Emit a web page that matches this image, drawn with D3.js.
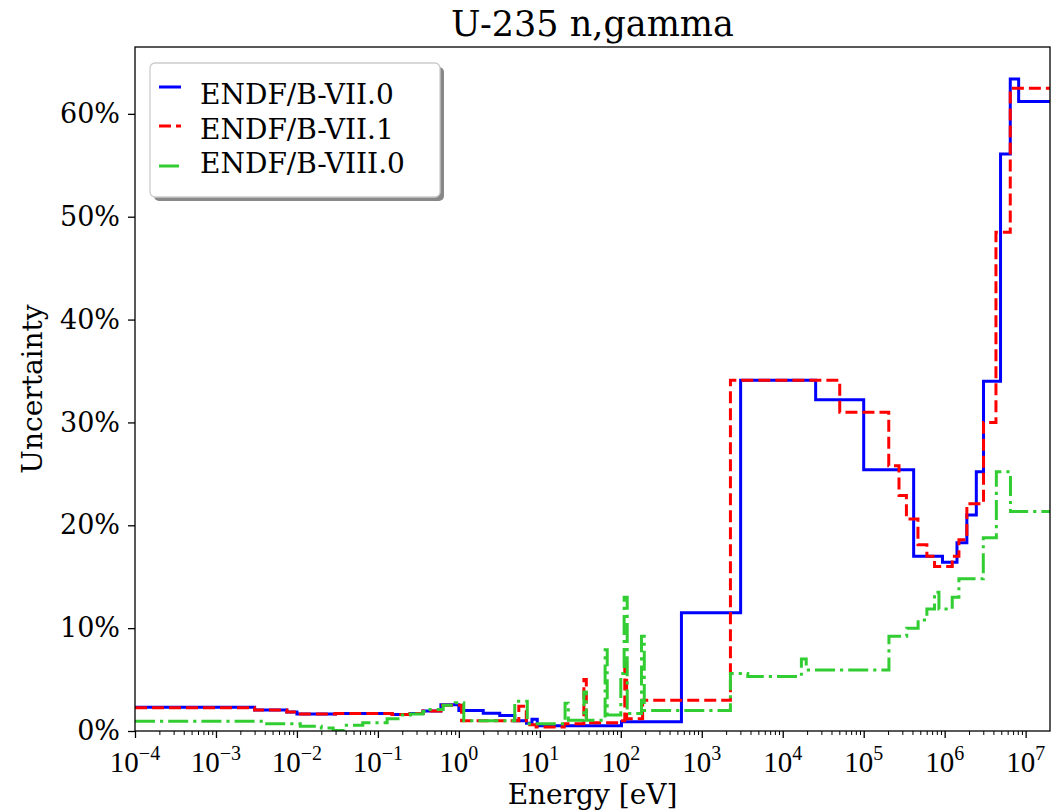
<!DOCTYPE html>
<html><head><meta charset="utf-8">
<script src="https://cdn.jsdelivr.net/npm/d3@7"></script>
<style>body{margin:0;background:#fff}</style>
</head><body>
<svg id="chart" width="1053" height="811"></svg>
<script>
const titleText = "U-235 n,gamma";
const xLabelText = "Energy [eV]";
const yLabelText = "Uncertainty";
const seriesNames = ["ENDF/B-VII.0", "ENDF/B-VII.1", "ENDF/B-VIII.0"];
const seriesColors = ["#0000ff", "#ff0000", "#32cd32"];
const xTickExps = [-4, -3, -2, -1, 0, 1, 2, 3, 4, 5, 6, 7];
const yTickValues = [0, 10, 20, 30, 40, 50, 60];

// [energy eV, uncertainty %] step-after points
const endf70 = [[1e-4,2.3],[3.0e-3,2.05],[7.5e-3,1.85],[1.0e-2,1.65],[3.0e-2,1.7],[0.15,1.6],[0.25,1.7],[0.36,1.95],[0.6,2.55],[1.0,2.0],[2.0,1.72],[3.2,1.5],[4.9,1.0],[6.85,0.75],[8.0,1.15],[9.3,0.5],[102,0.9],[561,11.5],[3020,34.1],[2.55e4,32.2],[1.0e5,25.4],[4.14e5,17.0],[9.4e5,16.4],[1.42e6,18.3],[1.88e6,21.0],[2.46e6,25.2],[3.02e6,34.0],[4.9e6,56.1],[6.46e6,63.4],[8.2e6,61.2],[2e7,61.2]];
const endf71 = [[1e-4,2.25],[3.0e-3,2.05],[7.5e-3,1.85],[1.0e-2,1.65],[3.0e-2,1.7],[0.15,1.6],[0.25,1.7],[0.36,1.95],[0.6,2.5],[1.08,1.0],[5.5,2.4],[6.8,1.0],[7.5,0.6],[9.0,0.4],[20,0.7],[35,5.0],[37.5,0.8],[100,1.0],[112,6.9],[118,1.2],[186,3.0],[2260,34.1],[5.06e4,31.0],[2.04e5,25.8],[2.73e5,22.9],[3.37e5,20.6],[4.68e5,18.1],[6.03e5,17.0],[7.5e5,16.0],[1.24e6,17.0],[1.5e6,18.6],[1.88e6,22.1],[3.02e6,30.0],[4.3e6,48.5],[6.46e6,62.5],[2e7,62.5]];
const endf80 = [[1e-4,0.95],[3.8e-3,0.7],[1.1e-2,0.45],[2.0e-2,0.3],[2.8e-2,0.05],[3.8e-2,0.55],[6.5e-2,0.8],[0.13,1.2],[0.19,1.55],[0.25,1.65],[0.36,1.9],[0.44,2.1],[0.64,2.5],[0.9,2.75],[1.15,1.0],[4.9,2.9],[7.0,0.7],[20.5,2.7],[22.5,1.05],[35,3.8],[37.5,1.05],[64,7.9],[68,1.55],[100,5.6],[110,13.0],[120,1.7],[180,9.2],[195,2.0],[2260,5.6],[3.7e3,5.3],[1.7e4,7.0],[1.95e4,5.94],[2.05e5,9.2],[3.4e5,10.0],[4.7e5,10.8],[6.03e5,11.85],[7.5e5,13.5],[8.5e5,11.85],[1.24e6,13.0],[1.5e6,14.8],[3.0e6,18.8],[4.35e6,25.2],[6.5e6,21.35],[2e7,21.35]];

const seriesData = [endf70, endf71, endf80];
const dashes = [null, "12,5", "20,5,3.2,5"];

const L = 135, R = 1050, T = 47, B = 731;
const x = d3.scaleLog().domain([1e-4, 2e7]).range([L, R]);
const y = d3.scaleLinear().domain([0, 66.5]).range([B, T]);

const svg = d3.select("#chart");
const font = "DejaVu Serif";

svg.append("defs").append("clipPath").attr("id", "clip")
  .append("rect").attr("x", L).attr("y", T).attr("width", R - L).attr("height", B - T);

// lines
const line = d3.line().x(d => x(d[0])).y(d => y(d[1])).curve(d3.curveStepAfter);
const plot = svg.append("g").attr("clip-path", "url(#clip)");
seriesData.forEach((data, i) => {
  plot.append("path").datum(data)
    .attr("d", line)
    .attr("fill", "none")
    .attr("stroke", seriesColors[i])
    .attr("stroke-width", 3)
    .attr("stroke-dasharray", dashes[i])
    .attr("stroke-linejoin", "miter");
});

// frame
svg.append("rect").attr("x", L).attr("y", T).attr("width", R - L).attr("height", B - T)
  .attr("fill", "none").attr("stroke", "#000").attr("stroke-width", 1.3);

// x axis major
const majorVals = xTickExps.map(e => Math.pow(10, e));
const xAxis = svg.append("g").attr("transform", `translate(0,${B})`)
  .call(d3.axisBottom(x).tickValues(majorVals).tickSize(7).tickSizeOuter(0).tickFormat(""));
xAxis.select(".domain").remove();
xAxis.selectAll(".tick line").attr("stroke", "#000").attr("stroke-width", 1.3);

// minor
const minorVals = [];
for (let k = -4; k <= 6; k++) for (let m = 2; m <= 9; m++) minorVals.push(m * Math.pow(10, k));
const xMinor = svg.append("g").attr("transform", `translate(0,${B})`)
  .call(d3.axisBottom(x).tickValues(minorVals).tickSize(4).tickSizeOuter(0).tickFormat(""));
xMinor.select(".domain").remove();
xMinor.selectAll(".tick line").attr("stroke", "#000").attr("stroke-width", 1);

// x tick labels with superscripts
xTickExps.forEach(e => {
  const t = svg.append("text").attr("x", x(Math.pow(10, e))).attr("y", 772)
    .attr("text-anchor", "middle").attr("font-family", "Liberation Serif").attr("font-size", 29);
  t.append("tspan").text("10");
  t.append("tspan").attr("dy", -12).attr("font-size", 20).text(e < 0 ? "\u2212" + (-e) : String(e));
});

// y axis
const yAxis = svg.append("g").attr("transform", `translate(${L},0)`)
  .call(d3.axisLeft(y).tickValues(yTickValues).tickSize(7).tickSizeOuter(0).tickPadding(8).tickFormat(d => d + "%"));
yAxis.select(".domain").remove();
yAxis.selectAll(".tick line").attr("stroke", "#000").attr("stroke-width", 1.3);
yAxis.selectAll(".tick text").attr("font-family", font).attr("font-size", 27).attr("fill", "#000");

// title & labels
svg.append("text").attr("x", (L + R) / 2).attr("y", 36).attr("text-anchor", "middle")
  .attr("font-family", font).attr("font-size", 35).text(titleText);
svg.append("text").attr("x", (L + R) / 2).attr("y", 804).attr("text-anchor", "middle")
  .attr("font-family", font).attr("font-size", 28).text(xLabelText);
svg.append("text").attr("transform", `translate(42,${(T + B) / 2}) rotate(-90)`).attr("text-anchor", "middle")
  .attr("font-family", font).attr("font-size", 28).text(yLabelText);

// legend
const lg = svg.append("g");
lg.append("rect").attr("x", 154).attr("y", 67).attr("width", 290).attr("height", 134).attr("rx", 5)
  .attr("fill", "#888");
lg.append("rect").attr("x", 150).attr("y", 63).attr("width", 290).attr("height", 134).attr("rx", 5)
  .attr("fill", "#fff").attr("stroke", "#ccc").attr("stroke-width", 1.3);
const rowsText = [104, 138.5, 173];
const rowsMark = [87, 126, 166];
seriesNames.forEach((n, i) => {
  lg.append("line").attr("x1", 159).attr("x2", 181).attr("y1", rowsMark[i]).attr("y2", rowsMark[i])
    .attr("stroke", seriesColors[i]).attr("stroke-width", 3).attr("stroke-dasharray", dashes[i]);
  lg.append("text").attr("x", 200).attr("y", rowsText[i]).attr("font-family", font).attr("font-size", 28).text(n);
});
</script>
</body></html>
